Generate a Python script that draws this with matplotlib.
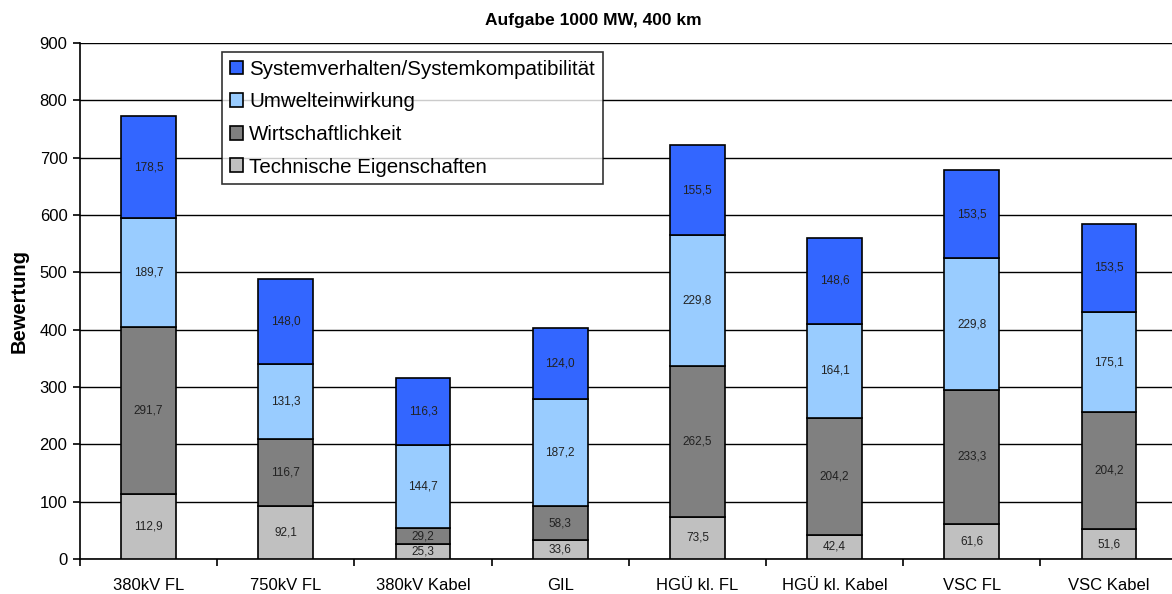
import matplotlib
matplotlib.use("Agg")
import matplotlib.pyplot as plt
import numpy as np

plt.rcParams['font.family'] = ['Liberation Sans', 'DejaVu Sans']

categories = ["380kV FL", "750kV FL", "380kV Kabel", "GIL", "HGÜ kl. FL",
              "HGÜ kl. Kabel", "VSC FL", "VSC Kabel"]
series_names = ["Technische Eigenschaften", "Wirtschaftlichkeit",
                "Umwelteinwirkung", "Systemverhalten/Systemkompatibilität"]
technische = [112.9, 92.1, 25.3, 33.6, 73.5, 42.4, 61.6, 51.6]
wirtschaft = [291.7, 116.7, 29.2, 58.3, 262.5, 204.2, 233.3, 204.2]
umwelt = [189.7, 131.3, 144.7, 187.2, 229.8, 164.1, 229.8, 175.1]
system = [178.5, 148.0, 116.3, 124.0, 155.5, 148.6, 153.5, 153.5]
colors = ["#C0C0C0", "#808080", "#99CCFF", "#3366FF"]
yticks = list(range(0, 901, 100))

W, H = 1172, 594
fig = plt.figure(figsize=(W / 100, H / 100), dpi=100)
left, right, top, bottom = 80, 80 + 8 * 137.2, 43, 559
ax = fig.add_axes([left / W, (H - bottom) / H, (right - left) / W, (bottom - top) / H])

x = np.arange(len(categories))
base = np.zeros(len(categories))
handles = []
for vals, name, col in zip([technische, wirtschaft, umwelt, system], series_names, colors):
    vals = np.array(vals)
    b = ax.bar(x, vals, width=0.4, bottom=base, color=col, edgecolor="black",
               linewidth=1.2, label=name, zorder=3)
    handles.append(b)
    for xi, v, bs in zip(x, vals, base):
        ax.text(xi, bs + v / 2, f"{v:.1f}".replace(".", ","), ha="center",
                va="center", fontsize=8.5, color="#222222", zorder=4)
    base = base + vals

ax.set_xlim(-0.5, len(categories) - 0.5)
ax.set_ylim(0, 900)
ax.set_yticks(yticks)
ax.set_yticklabels([str(t) for t in yticks], fontsize=12)
ax.set_xticks(x)
ax.set_xticklabels(categories, fontsize=12)
ax.set_xticks(np.arange(-0.5, len(categories), 1.0), minor=True)
ax.tick_params(axis="x", which="major", length=0, pad=14)
ax.tick_params(axis="x", which="minor", length=5, width=1.2, direction="out")
ax.tick_params(axis="y", length=5, width=1.2, direction="out", pad=4)
ax.grid(axis="y", color="black", linewidth=1.0, zorder=0)
for s in ["top", "right"]:
    ax.spines[s].set_visible(False)
ax.spines["left"].set_linewidth(1.2)
ax.spines["bottom"].set_linewidth(1.2)
ax.set_ylabel("Bewertung", fontsize=14.5, fontweight="bold", labelpad=8)
fig.text(593 / W, 1 - 20 / H, "Aufgabe 1000 MW, 400 km", ha="center", va="center",
         fontsize=12.5, fontweight="bold")

leg = ax.legend(handles[::-1], series_names[::-1], loc="upper left",
                bbox_to_anchor=((222 - left) / (right - left), 1 - (52 - top) / (bottom - top)),
                fontsize=14.8, frameon=True, fancybox=False, edgecolor="black",
                handlelength=0.65, handleheight=0.65, handletextpad=0.3,
                borderpad=0.38, labelspacing=0.66, borderaxespad=0)
leg.get_frame().set_linewidth(1.2)
leg.set_zorder(5)

fig.savefig("out.png", dpi=100)
